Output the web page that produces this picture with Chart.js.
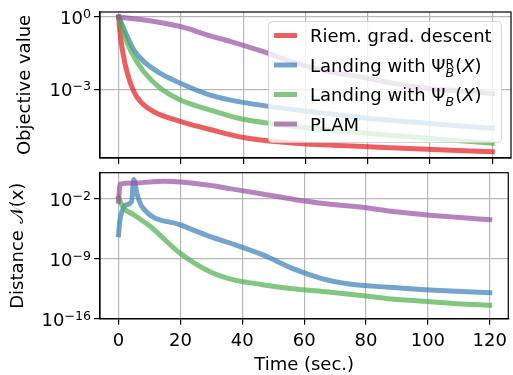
<!DOCTYPE html>
<html>
<head>
<meta charset="utf-8">
<script src="https://cdn.jsdelivr.net/npm/chart.js@4.4.1/dist/chart.umd.min.js"></script>
<style>
  body { margin: 0; background: #fff; }
  #wrap { position: relative; width: 513px; height: 375px; }
  #wrap canvas { position: absolute; left: 0; top: 0; }
</style>
</head>
<body>
<div id="wrap">
  <canvas id="topChart" width="513" height="375"></canvas>
  <canvas id="bottomChart" width="513" height="375"></canvas>
</div>
<script>
// Eje x compartido (segundos)
const timeTicks = [0, 20, 40, 60, 80, 100, 120];

// Panel superior: valor del objetivo
const objTicks = [1, 1e-3];
const objTickExp = ["0", "\u22123"];
const riemTime = [0, 0.4, 1.2, 2.8, 4.9, 7, 11.3, 20, 30, 40, 57, 80, 99, 120];
const riemObj = [1, 0.25, 0.0427, 0.00457, 7.94e-4, 3.09e-4, 1.17e-4, 4.57e-5, 2.04e-5, 1.0e-5, 5.75e-6, 4.17e-6, 3.24e-6, 2.57e-6];
const landTime = [0, 1.2, 2.8, 4.9, 8.1, 13.4, 19.8, 29.4, 38.5, 57.2, 80, 99, 120];
const landRObj = [1, 0.447, 0.151, 0.0427, 0.0141, 4.57e-3, 1.78e-3, 5.75e-4, 3.09e-4, 1.38e-4, 6.31e-5, 3.89e-5, 2.4e-5];
const landObj = [1, 0.34, 0.0813, 0.0224, 5.37e-3, 1.1e-3, 3.63e-4, 1.38e-4, 6.31e-5, 2.82e-5, 1.48e-5, 9.33e-6, 5.75e-6];
const plamTimeTop = [0, 10, 20, 29.4, 36, 46.5, 57.2, 67.8, 80, 88, 99, 109.4, 120];
const plamObj = [1, 0.708, 0.398, 0.166, 0.0955, 0.0363, 0.012, 5.37e-3, 2.88e-3, 1.78e-3, 1.1e-3, 8.51e-4, 6.76e-4];

// Panel inferior: distancia N(x)
const distTicks = [1e-2, 1e-9, 1e-16];
const distTickExp = ["\u22122", "\u22129", "\u221216"];
const landRTime = [0, 0.4, 1.2, 2.2, 4.2, 4.9, 6.0, 7.6, 19.8, 29.4, 36, 46.5, 57.2, 66, 74, 82, 90, 99, 109.4, 120];
const landRDist = [6.31e-7, 2.51e-5, 3.98e-4, 1.78e-3, 4.47e-3, 1.78, 0.0316, 1.12e-3, 9.33e-6, 4.07e-7, 6.76e-8, 2.95e-9, 5.25e-11, 4.5e-12, 1.2e-12, 6.3e-13, 4.0e-13, 2.4e-13, 1.55e-13, 1.07e-13];
const landDistTime = [0, 1.7, 4.9, 10.2, 19.8, 29.4, 36, 46.5, 57.2, 67.8, 80, 88, 99, 109.4, 120];
const landDist = [0.012, 8.13e-4, 1.35e-4, 6.03e-6, 4.57e-9, 3.16e-11, 4.47e-12, 9.33e-13, 2.88e-13, 1.29e-13, 4.47e-14, 2.0e-14, 1.07e-14, 5.62e-15, 3.63e-15];
const plamTime = [0, 0.5, 5, 14.5, 20, 29.4, 36, 46.5, 57.2, 67.8, 80, 88, 99, 109.4, 120];
const plamDist = [5.0e-3, 0.501, 0.676, 1.07, 0.891, 0.363, 0.148, 0.0355, 7.59e-3, 2.4e-3, 8.51e-4, 3.39e-4, 1.35e-4, 6.76e-5, 3.55e-5];

const FONT = "'DejaVu Sans', 'Liberation Sans', sans-serif";
const colores = {
  red: "rgba(228, 26, 28, 0.7)",
  blue: "rgba(55, 126, 184, 0.7)",
  green: "rgba(77, 175, 74, 0.7)",
  purple: "rgba(152, 78, 163, 0.7)",
};

Chart.defaults.font.family = FONT;
Chart.defaults.font.size = 18;
Chart.defaults.color = "#000";

const pts = (xs, ys) => xs.map((x, i) => ({ x: x, y: ys[i] }));

function serie(label, xs, ys, color, order) {
  return {
    label: label,
    data: pts(xs, ys),
    borderColor: color,
    borderWidth: 5,
    pointRadius: 0,
    fill: false,
    cubicInterpolationMode: "monotone",
    borderCapStyle: "square",
    borderJoinStyle: "round",
    order: order,
  };
}

// 10^exp con el exponente más pequeño, como en mathtext
function drawPow(ctx, exp, xRight, yc) {
  ctx.save();
  ctx.fillStyle = "#000";
  ctx.textAlign = "left";
  ctx.textBaseline = "alphabetic";
  const big = "18px " + FONT;
  const small = "12.6px " + FONT;
  ctx.font = big;
  const wb = ctx.measureText("10").width;
  ctx.font = small;
  const we = ctx.measureText(exp).width;
  const x0 = xRight - wb - we;
  const base = yc + 7;
  ctx.font = big;
  ctx.fillText("10", x0, base);
  ctx.font = small;
  ctx.fillText(exp, x0 + wb, base - 6);
  ctx.restore();
}

function axesPlugin(exps) {
  return {
    id: "ejes",
    afterDatasetsDraw(chart) {
      const ctx = chart.ctx;
      const a = chart.chartArea;
      ctx.save();
      ctx.strokeStyle = "#000";
      ctx.lineWidth = 1.2;
      ctx.strokeRect(a.left, a.top, a.right - a.left, a.bottom - a.top);
      ctx.restore();
      const y = chart.scales.y;
      y.ticks.forEach((t, i) => {
        drawPow(ctx, exps[i], 91, y.getPixelForValue(t.value));
      });
    },
  };
}

// Leyenda dibujada a mano (subíndices y superíndices)
const legendPlugin = {
  id: "leyenda",
  afterDraw(chart) {
    const ctx = chart.ctx;
    const big = "18px " + FONT;
    const small = "12.6px " + FONT;
    const smallIt = "italic 12.6px " + FONT;
    const bigIt = "italic 18px " + FONT;
    ctx.save();
    ctx.beginPath();
    ctx.roundRect(268.5, 21.5, 233, 121, 4);
    ctx.fillStyle = "rgba(255,255,255,0.8)";
    ctx.fill();
    ctx.strokeStyle = "rgba(204,204,204,0.8)";
    ctx.lineWidth = 1;
    ctx.stroke();

    const rows = [35.5, 65, 94.5, 124];
    const cols = [colores.red, colores.blue, colores.green, colores.purple];
    rows.forEach((yc, i) => {
      ctx.beginPath();
      ctx.moveTo(274, yc);
      ctx.lineTo(297, yc);
      ctx.strokeStyle = cols[i];
      ctx.lineWidth = 5;
      ctx.lineCap = "butt";
      ctx.stroke();
    });

    ctx.fillStyle = "#000";
    ctx.textAlign = "left";
    ctx.textBaseline = "alphabetic";
    const runs = (x, y, list) => {
      list.forEach((r) => {
        ctx.font = r.f;
        ctx.fillText(r.t, x, y + (r.dy || 0));
        if (!r.stay) x += ctx.measureText(r.t).width + (r.gap || 0);
      });
    };
    const x0 = 310;
    runs(x0, rows[0] + 6.5, [{ t: "Riem. grad. descent", f: big }]);
    runs(x0, rows[1] + 6.5, [
      { t: "Landing with \u03A8", f: big },
      { t: "R", f: small, dy: -4, stay: true },
      { t: "B", f: smallIt, dy: 5.5, gap: 1 },
      { t: "(", f: big },
      { t: "X", f: bigIt },
      { t: ")", f: big },
    ]);
    runs(x0, rows[2] + 6.5, [
      { t: "Landing with \u03A8", f: big },
      { t: "B", f: smallIt, dy: 5, gap: 1 },
      { t: "(", f: big },
      { t: "X", f: bigIt },
      { t: ")", f: big },
    ]);
    runs(x0, rows[3] + 6.5, [{ t: "PLAM", f: big }]);
    ctx.restore();
  },
};

function xScale(showLabels, height) {
  return {
    type: "linear",
    min: -6,
    max: 126,
    afterBuildTicks: (s) => { s.ticks = timeTicks.map((v) => ({ value: v })); },
    afterFit: (s) => { s.height = height; },
    ticks: { display: showLabels, padding: 6, font: { size: 18 } },
    grid: { color: "#b8b8b8", lineWidth: 1.2, tickColor: "#000", tickWidth: 1.2, tickLength: 6 },
    border: { display: true, color: "#000", width: 1.2 },
    title: { display: showLabels, text: "Time (sec.)", font: { size: 18, lineHeight: 1.05 }, padding: { top: 0, bottom: 0 } },
  };
}

function yScale(min, max, ticks, title, titlePad) {
  return {
    type: "logarithmic",
    min: min,
    max: max,
    afterBuildTicks: (s) => { s.ticks = ticks.map((v) => ({ value: v })); },
    afterFit: (s) => { s.width = 100; },
    ticks: { display: false },
    grid: { color: "#b8b8b8", lineWidth: 1.2, tickColor: "#000", tickWidth: 1.2, tickLength: 6 },
    border: { display: true, color: "#000", width: 1.2 },
    title: { display: true, text: title, font: { size: 18 }, padding: { top: titlePad, bottom: 0 } },
  };
}

const baseOptions = {
  responsive: false,
  animation: false,
  devicePixelRatio: 1,
  events: [],
  plugins: { legend: { display: false }, tooltip: { enabled: false } },
};

// Gráfica superior
new Chart(document.getElementById("topChart").getContext("2d"), {
  type: "line",
  data: {
    datasets: [
      serie("Riem. grad. descent", riemTime, riemObj, colores.red, 4),
      serie("Landing with ΨBR(X)", landTime, landRObj, colores.blue, 3),
      serie("Landing with ΨB(X)", landTime, landObj, colores.green, 2),
      serie("PLAM", plamTimeTop, plamObj, colores.purple, 1),
    ],
  },
  options: Object.assign({}, baseOptions, {
    layout: { padding: { top: 12, right: 2, left: 0, bottom: 210 } },
    scales: {
      x: xScale(false, 7),
      y: yScale(1.41e-6, 1.62, objTicks, "Objective value", 15),
    },
  }),
  plugins: [axesPlugin(objTickExp), legendPlugin],
});

// Gráfica inferior
new Chart(document.getElementById("bottomChart").getContext("2d"), {
  type: "line",
  data: {
    datasets: [
      serie("Landing with ΨBR(X)", landRTime, landRDist, colores.blue, 3),
      serie("Landing with ΨB(X)", landDistTime, landDist, colores.green, 2),
      serie("PLAM", plamTime, plamDist, colores.purple, 1),
    ],
  },
  options: Object.assign({}, baseOptions, {
    layout: { padding: { top: 172.7, right: 2, left: 0, bottom: 0 } },
    scales: {
      x: xScale(true, 56.3),
      y: yScale(1e-16, 10.7, distTicks, "Distance \uD835\uDCA9(x)", 7.5),
    },
  }),
  plugins: [axesPlugin(distTickExp)],
});
</script>
</body>
</html>
